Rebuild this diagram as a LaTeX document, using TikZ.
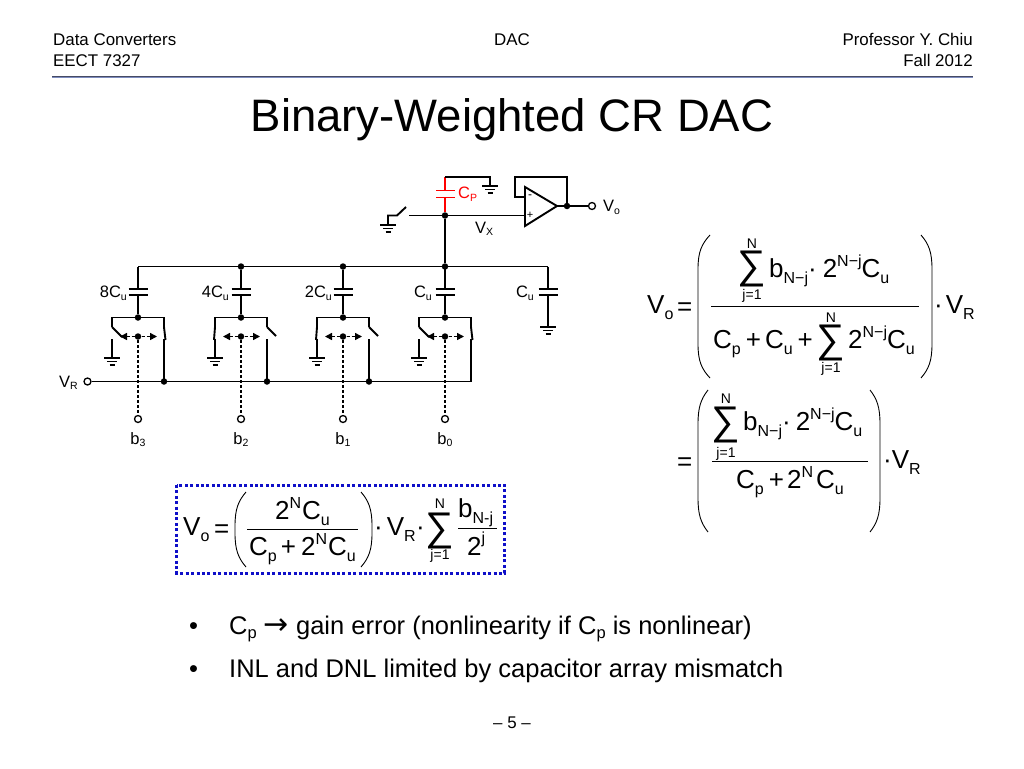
\documentclass[tikz,border=0pt]{standalone}
\usepackage{fontspec}
\setmainfont{Liberation Sans}
\newfontfamily\arrowfont{DejaVu Sans}
\usetikzlibrary{arrows.meta}
\newcounter{eqc}
\newcommand\fs[1]{\fontsize{#1}{#1}\selectfont}
\newcommand\dn[1]{\raisebox{-6pt}{\fs{16}#1}}
\newcommand\up[1]{\raisebox{10.5pt}{\fs{16}#1}}
\newcommand\ls[1]{\raisebox{-2.5pt}{\fs{10.5}#1}}
\newcommand\eqn[3]{\stepcounter{eqc}\node[eqtxt] (eq\theeqc) at (#1,#2) {#3};}
\newcommand\sumsym[2]{\stepcounter{eqc}\node[sumsign] (eq\theeqc) at (#1,#2) {∑};}
\newcommand\limt[3]{\stepcounter{eqc}\node[limtxt] (eq\theeqc) at (#1,#2) {#3};}
% tip x, outer x, top, bottom
\newcommand\bigparen[4]{\pgfmathsetmacro\pmid{#2+0.3*(#1-#2)}
 \draw[eqline] (#1,#3) .. controls (\pmid,#3+9) and (#2,#3+17) .. (#2,#3+34) -- (#2,#4-34) .. controls (#2,#4-17) and (\pmid,#4-9) .. (#1,#4);}
\newcommand\gnd[2]{\draw[wire] (#1-8,#2) -- (#1+8,#2) (#1-5,#2+3.5) -- (#1+5,#2+3.5) (#1-2.5,#2+7) -- (#1+2.5,#2+7);}
\tikzset{
 wire/.style={line width=1.9pt},
 eqline/.style={line width=0.9pt},
 dotn/.style={circle,fill=black,inner sep=0pt,minimum size=6.5pt},
 opn/.style={circle,draw=black,fill=white,line width=1.3pt,inner sep=0pt,minimum size=7pt},
 lab/.style={font=\fs{16.5},inner sep=0pt,anchor=base west},
 labe/.style={font=\fs{16.5},inner sep=0pt,anchor=base east},
 labc/.style={font=\fs{16.5},inner sep=0pt,anchor=base},
 eqtxt/.style={font=\fs{26},inner sep=0pt,anchor=base west},
 limtxt/.style={font=\fs{14},inner sep=0pt,anchor=base},
 sumsign/.style={font=\fs{40},inner sep=0pt,anchor=center},
 hdr/.style={font=\fs{16.9},inner sep=0pt},
 bullet/.style={font=\fs{25.5},inner sep=0pt,anchor=base west},
 ctl/.style={line width=1.6pt,dash pattern=on 3pt off 2pt},
}
\definecolor{rulea}{RGB}{70,75,100}
\definecolor{ruleb}{RGB}{125,140,190}
\definecolor{boxblue}{RGB}{15,15,200}
\begin{document}
\begin{tikzpicture}[x=1pt,y=-1pt]
\useasboundingbox (0,0) rectangle (1024,768);
% header
\node[hdr,anchor=base west] (h1) at (53,45.5) {Data Converters};
\node[hdr,anchor=base west] (h2) at (53,66.5) {EECT 7327};
\node[hdr,anchor=base] (h3) at (512,45.5) {DAC};
\node[hdr,anchor=base east] (h4) at (973,45.5) {Professor Y. Chiu};
\node[hdr,anchor=base east] (h5) at (973,66.5) {Fall 2012};
\draw[rulea,line width=1pt] (52,76) -- (973,76);
\draw[ruleb,line width=1.2pt] (52,77.1) -- (973,77.1);
\node[font=\fs{45.5},inner sep=0pt,anchor=base] (title) at (512,131.5) {Binary-Weighted CR DAC};
% circuit top
\coordinate (busL) at (138,266.5);
\coordinate (busR) at (548,266.5);
\node[dotn] (jx) at (445,215.5) {};
\node[dotn] (jb) at (445,266.5) {};
\draw[wire] (jx) -- (jb);
\draw[wire] (busL) -- (busR);
% parasitic cap
\coordinate (cpA) at (445,197.5);
\coordinate (cpB) at (445,190.5);
\coordinate (cpT) at (445,177);
\coordinate (cpG) at (490,177);
\coordinate (cpGb) at (490,186);
\draw[wire,red] (jx) -- (cpA) (cpB) -- (cpT);
\draw[wire,red] (436,197.5) -- (455,197.5) (436,190.5) -- (455,190.5);
\draw[wire] (cpT) -- (cpG) -- (cpGb);
\gnd{490}{186}
\node[lab,red] (cpl) at (458,198.5) {C\ls{P}};
% opamp
\coordinate (opA) at (525,187);
\coordinate (opB) at (525,226);
\coordinate (opC) at (557,206);
\draw[wire,fill=white] (opA) -- (opB) -- (opC) -- cycle;
\node[font=\fs{12},inner sep=0pt] (opm) at (530,196.5) {-};
\node[font=\fs{11},inner sep=0pt] (opp) at (530,215.5) {+};
\node[dotn] (jo) at (567,206) {};
\node[opn] (vo) at (592,206) {};
\coordinate (fb1) at (525,197);
\coordinate (fb2) at (515,197);
\coordinate (fb3) at (515,177);
\coordinate (fb4) at (567,177);
\draw[wire] (fb1) -- (fb2) -- (fb3) -- (fb4) -- (jo);
\draw[wire] (opC) -- (jo) -- (vo);
\node[lab] (volab) at (603,211.5) {V\ls{o}};
\coordinate (swR) at (409,215.5);
\coordinate (plus) at (525,215.5);
\draw[wire] (swR) -- (jx) -- (plus);
\node[lab] (vxlab) at (475,233) {V\ls{X}};
\coordinate (sgA) at (388,225);
\coordinate (sgB) at (388,215.5);
\coordinate (sgC) at (397,215.5);
\coordinate (sgD) at (406,207);
\draw[wire] (sgA) -- (sgB) -- (sgC) -- (sgD);
\gnd{388}{225}
% branches
\foreach \i/\x/\lc in {3/138/0,2/241/1,1/343/1,0/445/0}{
 \pgfmathsetmacro\xl{\x-26}
 \pgfmathsetmacro\xr{\x+26}
 \coordinate (ct\i) at (\x,289);
 \coordinate (cb\i) at (\x,295);
 \ifnum\i=3 \coordinate (top\i) at (\x,266.5);
 \else\ifnum\i=0 \coordinate (top\i) at (\x,266.5);
 \else \node[dotn] (top\i) at (\x,266.5) {};\fi\fi
 \node[dotn] (mid\i) at (\x,317.5) {};
 \node[dotn] (ctr\i) at (\x,336.5) {};
 \node[opn] (bit\i) at (\x,419) {};
 \draw[wire] (top\i) -- (ct\i) (cb\i) -- (mid\i);
 \draw[wire] (\x-9.5,289) -- (\x+9.5,289) (\x-9.5,295) -- (\x+9.5,295);
 \draw[wire] (\xl,327) -- (\xl,317.5) -- (\xr,317.5) -- (\xr,327);
 \draw[ctl,{Triangle[length=7pt,width=7pt]}-{Triangle[length=7pt,width=7pt]}] (\x-18,336.5) -- (\x+19,336.5);
 \draw[ctl] (ctr\i) -- (bit\i);
 \draw[wire] (\xl,339) -- (\xl,358);
 \gnd{\xl}{358}
 \ifnum\lc=0
  \draw[wire] (\xl,327) -- (\xl+10,337);
  \draw[wire] (\xr,327) -- (\xr+1.5,340);
 \else
  \draw[wire] (\xl,327) -- (\xl-1,340);
  \draw[wire] (\xr,327) -- (\xr+9,336);
 \fi
 \draw[wire] (\xr,339) -- (\xr,381.5);
 \ifnum\i=0\else \node[dotn] at (\xr,381.5) {};\fi
}
% fifth capacitor
\coordinate (c5a) at (548,289);
\coordinate (c5b) at (548,295);
\coordinate (c5c) at (548,327);
\draw[wire] (busR) -- (c5a) (c5b) -- (c5c);
\draw[wire] (538.5,289) -- (557.5,289) (538.5,295) -- (557.5,295);
\gnd{548}{327}
% VR line
\node[opn] (vr) at (87.5,381.5) {};
\coordinate (vrE) at (471,381.5);
\draw[wire] (vr) -- (vrE);
\node[lab] (vrlab) at (59,387) {V\ls{R}};
% labels
\node[labe] (l8) at (127,297.5) {8C\ls{u}};
\node[labe] (l4) at (229,297.5) {4C\ls{u}};
\node[labe] (l2) at (332,297.5) {2C\ls{u}};
\node[labe] (l1) at (432,297.5) {C\ls{u}};
\node[labe] (l5) at (534,297.5) {C\ls{u}};
\node[labc] (b3) at (138,444) {b\ls{3}};
\node[labc] (b2) at (241,444) {b\ls{2}};
\node[labc] (b1) at (343,444) {b\ls{1}};
\node[labc] (b0) at (445,444) {b\ls{0}};
% equation 1
\eqn{647}{313}{V\dn{o}}
\eqn{677}{315}{=}
\bigparen{710}{698}{235}{378}
\bigparen{921}{932}{235}{378}
\sumsym{752}{269}
\limt{752}{248}{N}
\limt{752}{299}{j=1}
\eqn{769}{277}{b\dn{N−j}·\hspace{6pt}2\up{N−j}C\dn{u}}
\draw[eqline] (711,306.7) -- (919,306.7);
\eqn{713}{348}{C\dn{p}\hspace{5pt}+\hspace{4pt}C\dn{u}\hspace{5pt}+}
\sumsym{831}{343}
\limt{831}{322}{N}
\limt{831}{372}{j=1}
\eqn{848}{348}{2\up{N−j}C\dn{u}}
\eqn{934}{313}{·\hspace{3pt}V\dn{R}}
% equation 2
\eqn{677}{470}{=}
\bigparen{708}{698}{390}{532}
\bigparen{870}{880}{390}{532}
\sumsym{726}{425}
\limt{726}{403}{N}
\limt{726}{457}{j=1}
\eqn{743}{430}{b\dn{N−j}·\hspace{5pt}2\up{N−j}C\dn{u}}
\draw[eqline] (712,461) -- (868,461);
\eqn{736}{488}{C\dn{p}\hspace{5pt}+\hspace{3pt}2\up{N}\hspace{3pt}C\dn{u}}
\eqn{883}{468}{·V\dn{R}}
% boxed equation
\draw[boxblue,line width=3pt,dash pattern=on 3pt off 2.4pt] (176.5,485) rectangle (504.5,573);
\eqn{183}{535}{V\dn{o}}
\eqn{214}{537}{=}
\bigparen{246}{235}{492}{567}
\bigparen{361}{372}{492}{567}
\eqn{275}{519}{2\up{N}\hspace{1pt}C\dn{u}}
\draw[eqline] (247,529) -- (358,529);
\eqn{249}{555}{C\dn{p}\hspace{4pt}+\hspace{5pt}2\up{N}\hspace{1pt}C\dn{u}}
\eqn{374}{535}{·\hspace{4pt}V\dn{R}}
\eqn{416}{535}{·}
\sumsym{440}{531}
\limt{440}{508}{N}
\limt{440}{559}{j=1}
\eqn{458}{517}{b\dn{N-j}}
\draw[eqline] (458,528) -- (497,528);
\eqn{467}{555}{2\raisebox{12pt}{\fs{16}j}}
% bullets
\node[bullet] (bu1) at (189,634) {•};
\node[bullet] (tx1) at (229,634) {C\raisebox{-4pt}{\fs{16.5}p} {\arrowfont\fs{30}→} gain error (nonlinearity if C\raisebox{-4pt}{\fs{16.5}p} is nonlinear)};
\node[bullet] (bu2) at (189,677) {•};
\node[bullet] (tx2) at (229,677) {INL and DNL limited by capacitor array mismatch};
\node[hdr,anchor=base] (foot) at (512,728) {– 5 –};
\end{tikzpicture}
\end{document}
